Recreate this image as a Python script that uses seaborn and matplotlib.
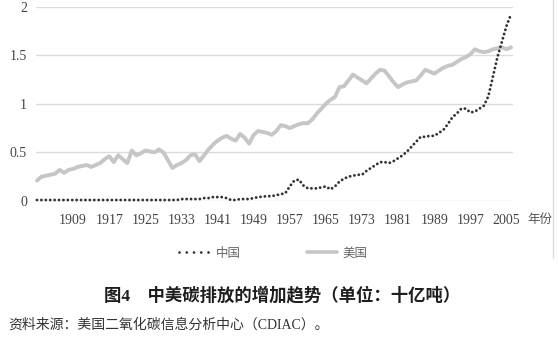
import matplotlib
matplotlib.use("Agg")
import matplotlib.pyplot as plt
import seaborn as sns
import pandas as pd
from matplotlib.lines import Line2D

years = list(range(1901, 2007))

china = [
    0.01, 0.01, 0.01, 0.01, 0.01, 0.01, 0.01, 0.01, 0.01, 0.01,
    0.01, 0.01, 0.01, 0.01, 0.01, 0.01, 0.01, 0.01, 0.01, 0.01,
    0.01, 0.01, 0.01, 0.01, 0.01, 0.01, 0.01, 0.01, 0.01, 0.01,
    0.01, 0.01, 0.02, 0.02, 0.02, 0.02, 0.02, 0.03, 0.03, 0.04,
    0.04, 0.04, 0.03, 0.01, 0.01, 0.02, 0.02, 0.02, 0.03, 0.04,
    0.045, 0.05, 0.05, 0.06, 0.07, 0.08, 0.15, 0.21, 0.22, 0.16,
    0.13, 0.13, 0.13, 0.14, 0.15, 0.12, 0.15, 0.20, 0.23, 0.25,
    0.26, 0.27, 0.27, 0.31, 0.34, 0.37, 0.40, 0.40, 0.39, 0.41,
    0.44, 0.47, 0.51, 0.56, 0.61, 0.66, 0.66, 0.67, 0.67, 0.70,
    0.73, 0.79, 0.86, 0.90, 0.95, 0.95, 0.91, 0.92, 0.95, 0.98,
    1.08, 1.28, 1.48, 1.64, 1.80, 1.92,
]

usa = [
    0.21, 0.25, 0.26, 0.27, 0.28, 0.32, 0.29, 0.32, 0.33, 0.35,
    0.36, 0.37, 0.35, 0.37, 0.39, 0.43, 0.46, 0.40, 0.47, 0.43,
    0.39, 0.52, 0.47, 0.49, 0.52, 0.51, 0.50, 0.53, 0.50, 0.42,
    0.34, 0.37, 0.39, 0.42, 0.47, 0.48, 0.41, 0.47, 0.53, 0.58,
    0.62, 0.65, 0.67, 0.64, 0.62, 0.69, 0.65, 0.59, 0.68, 0.72,
    0.71, 0.70, 0.68, 0.72, 0.78, 0.77, 0.75, 0.77, 0.79, 0.80,
    0.80, 0.84, 0.90, 0.95, 1.00, 1.04, 1.07, 1.17, 1.18, 1.24,
    1.30, 1.27, 1.24, 1.21, 1.26, 1.31, 1.35, 1.34, 1.28, 1.22,
    1.17, 1.20, 1.22, 1.23, 1.24, 1.29, 1.35, 1.33, 1.31, 1.34,
    1.37, 1.39, 1.40, 1.43, 1.46, 1.48, 1.51, 1.56, 1.54, 1.53,
    1.54, 1.56, 1.57, 1.58, 1.56, 1.58,
]

series_names = ["中国", "美国"]
xtick_years = [1909, 1917, 1925, 1933, 1941, 1949, 1957, 1965, 1973, 1981, 1989, 1997, 2005]
ytick_vals = [0, 0.5, 1, 1.5, 2]
ytick_labels = ["0", "0.5", "1", "1.5", "2"]
title_text = "图4\u3000中美碳排放的增加趋势（单位：十亿吨）"
source_text = "资料来源：美国二氧化碳信息分析中心（CDIAC）。"
xunit_text = "年份"

sns.set_style("white")
plt.rcParams["font.family"] = ["Liberation Serif", "Noto Sans CJK SC", "DejaVu Sans"]

df_cn = pd.DataFrame({"year": years, "value": china})
df_us = pd.DataFrame({"year": years, "value": usa})

W, H = 558, 341
fig = plt.figure(figsize=(W / 100, H / 100), dpi=100)
ax = fig.add_axes([36 / W, (H - 201) / H, 477 / W, 194.5 / H])

us_color = "#c6c6c6"
cn_color = "#333333"
cn_dash = (0, (0.01, 1.5))

sns.lineplot(data=df_us, x="year", y="value", ax=ax, color=us_color,
             linewidth=2.8, legend=False, clip_on=False)
sns.lineplot(data=df_cn, x="year", y="value", ax=ax, color=cn_color,
             linewidth=2.1, legend=False, clip_on=False)
ax.lines[1].set_linestyle(cn_dash)
ax.lines[1].set_dash_capstyle("round")
ax.lines[0].set_solid_joinstyle("round")

px_per_year = (511 - 37) / 105
ax.set_xlim(1901 - 1 / px_per_year, 1901 + 476 / px_per_year)
ax.set_ylim(0, 2)

ax.set_xticks(xtick_years)
ax.set_xticklabels([str(y) for y in xtick_years])
ax.set_yticks(ytick_vals)
ax.set_yticklabels(ytick_labels)
ax.tick_params(axis="both", length=0, labelsize=10, labelcolor="#444444")
ax.tick_params(axis="x", pad=9)
ax.tick_params(axis="y", pad=6.5)
for lab in ax.get_xticklabels() + ax.get_yticklabels():
    lab.set_family(["Liberation Serif"])

ax.set_xlabel("")
ax.set_ylabel("")
ax.grid(axis="y", color="#dcdcdc", linewidth=1.0)
ax.grid(axis="x", visible=False)
ax.set_axisbelow(True)
for s in ax.spines.values():
    s.set_visible(False)

fig.text(527 / W, 1 - 219 / H, xunit_text, ha="left", va="center",
         fontsize=9, color="#555555", family=["Noto Sans CJK SC"])

handles = [
    Line2D([0], [0], color=cn_color, linewidth=2.0, linestyle=(0, (0.01, 2.6)),
           dash_capstyle="round"),
    Line2D([0], [0], color=us_color, linewidth=2.6),
]
leg = fig.legend(handles, series_names, loc="center",
                 bbox_to_anchor=(273.5 / W, 1 - 253 / H), ncol=2, frameon=False,
                 handlelength=2.4, handletextpad=0.5, columnspacing=5.3,
                 prop={"family": ["Noto Sans CJK SC"], "size": 9})
for t in leg.get_texts():
    t.set_color("#666666")

fig.text(282 / W, 1 - 296 / H, title_text, ha="center", va="center",
         fontsize=12.5, fontweight="bold", color="#1e1e1e",
         family=["Liberation Serif", "Noto Sans CJK SC"])
fig.text(8 / W, 1 - 324.5 / H, source_text, ha="left", va="center",
         fontsize=10, color="#333333",
         family=["Liberation Serif", "Noto Sans CJK SC"])

fig.add_artist(Line2D([552.7 / W, 552.7 / W], [1, 1 - 258 / H],
                      transform=fig.transFigure, color="#dddddd", linewidth=1.0))

fig.savefig("out.png", dpi=100, facecolor="white")
